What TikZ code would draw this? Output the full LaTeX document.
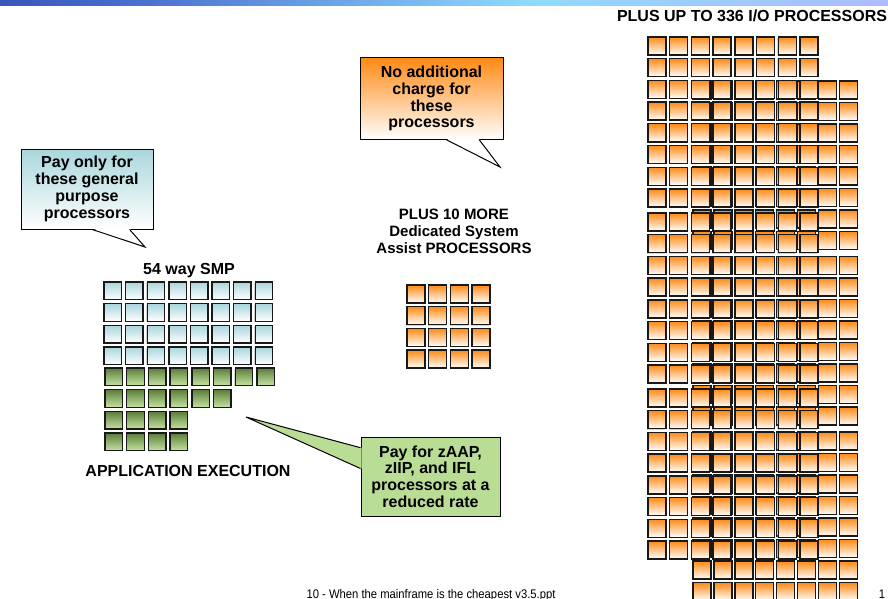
\documentclass[tikz,border=0pt]{standalone}
\usepackage{fontspec}
\setmainfont{Liberation Sans}
\usepackage{tikz}
\usetikzlibrary{calc, shadows}
\definecolor{GPBlue}{HTML}{A9D6DC}
\definecolor{ZGreenDark}{HTML}{5C7D3A}
\definecolor{ZGreenLight}{HTML}{C4E3A0}
\definecolor{ZGreenFill}{HTML}{BADD96}
\definecolor{IOOrange}{HTML}{FF8A14}
\definecolor{BannerNavy}{HTML}{000080}
\definecolor{BannerBlue}{HTML}{4A70D0}
\definecolor{BannerSky}{HTML}{90DAFF}
\definecolor{BannerLilac}{HTML}{B0B8FF}
\definecolor{BannerPurple}{HTML}{C890FF}
\pgfdeclarehorizontalshading{banner}{100bp}{color(0bp)=(BannerNavy); color(33bp)=(BannerBlue); color(55bp)=(BannerSky); color(78bp)=(BannerLilac); color(100bp)=(BannerPurple)}

\begin{document}
\begin{tikzpicture}[
    x=1pt, y=-1pt,
    cpubase/.style={draw=black!90, line width=1.4pt, minimum size=17.5pt, inner sep=0pt, drop shadow={shadow xshift=-0.8pt, shadow yshift=-0.8pt, opacity=0.35}},
    gpbox/.style={cpubase, top color=GPBlue, bottom color=white},
    zbox/.style={cpubase, top color=ZGreenDark, bottom color=ZGreenLight},
    iobox/.style={cpubase, minimum size=18pt, top color=IOOrange, bottom color=white},
    callout/.style={draw=black, line width=1pt, inner sep=2pt, align=center, font=\bfseries\fontsize{16}{16.8}\selectfont},
    heading/.style={align=center, font=\bfseries\fontsize{16}{17}\selectfont},
    pointer/.style={draw=black, line width=1pt, line join=miter}
]
\useasboundingbox (0,0) rectangle (888,599);

% Title bar
\shade[shading=banner] (0,0) rectangle (888,6);

% General purpose processors (54 way SMP)
\foreach \r in {0,...,3}
  \foreach \c in {0,...,7}
    \node[gpbox] (gp-\r-\c) at (112.75+21.6*\c, 290.75+21.7*\r) {};
\foreach \r/\n in {0/7, 1/5, 2/3, 3/3}
  \foreach \c in {0,...,\n}
    \node[zbox] (zp-\r-\c) at (113.75+21.7*\c, 376.75+21.7*\r) {};
\node[heading, anchor=base] (smplbl) at (189,274) {54 way SMP};
\node[heading, anchor=base] (appllbl) at (188,476) {APPLICATION EXECUTION};

% Dedicated system assist processors
\foreach \r in {0,...,3}
  \foreach \c in {0,...,3}
    \node[iobox] (sap-\r-\c) at (416+21.7*\c, 294+21.7*\r) {};
\node[heading, font=\bfseries\fontsize{15}{17}\selectfont] (saplbl) at (454,231) {PLUS 10 MORE\\Dedicated System\\Assist PROCESSORS};

% I/O processors (back stack first, front stack on top)
\foreach \b in {0,1,2}
  \foreach \r in {0,...,7}
    \foreach \c in {0,...,7}
      \node[iobox] (iob-\b-\r-\c) at (702+20.9*\c, 90+175.5*\b+21.5*\r) {};
\foreach \b in {0,1,2}
  \foreach \r in {0,...,7}
    \foreach \c in {0,...,7}
      \node[iobox] (ioa-\b-\r-\c) at (657+21.7*\c, 46+176*\b+21.7*\r) {};
\node[heading, anchor=base, font=\bfseries\fontsize{16}{18}\selectfont] (iolbl) at (752,22) {PLUS UP TO 336 I/O PROCESSORS};

% Callouts
\node[callout, top color=GPBlue, bottom color=white, minimum width=132pt, minimum height=80pt] (gpcall) at (87,189) {Pay only for\\these general\\purpose\\processors};
\coordinate (gptip) at (145,247);
\fill[white] ($(gpcall.south west)!0.54!(gpcall.south east)+(0,-1)$) -- (gptip) -- ($(gpcall.south west)!0.82!(gpcall.south east)+(0,-1)$) -- cycle;
\draw[pointer] ($(gpcall.south west)!0.54!(gpcall.south east)$) -- (gptip) -- ($(gpcall.south west)!0.82!(gpcall.south east)$);

\node[callout, top color=IOOrange, bottom color=white, minimum width=143pt, minimum height=81pt] (nocall) at (431.5,98.5) {No additional\\charge for\\these\\processors};
\coordinate (notip) at (500,167);
\fill[white] ($(nocall.south west)!0.60!(nocall.south east)+(0,-1)$) -- (notip) -- ($(nocall.south west)!0.83!(nocall.south east)+(0,-1)$) -- cycle;
\draw[pointer] ($(nocall.south west)!0.60!(nocall.south east)$) -- (notip) -- ($(nocall.south west)!0.83!(nocall.south east)$);

\node[callout, fill=ZGreenFill, minimum width=139pt, minimum height=79pt] (zcall) at (430.5,476.5) {Pay for zAAP,\\zIIP, and IFL\\processors at a\\reduced rate};
\coordinate (ztip) at (246,417);
\fill[ZGreenFill] ($(zcall.north west)!0.14!(zcall.south west)+(1,0)$) -- (ztip) -- ($(zcall.north west)!0.40!(zcall.south west)+(1,0)$) -- cycle;
\draw[pointer] ($(zcall.north west)!0.14!(zcall.south west)$) -- (ztip) -- ($(zcall.north west)!0.40!(zcall.south west)$);

% Footer
\node[anchor=base, inner sep=0pt, font=\fontsize{12.5}{14}\selectfont] (footer) at (431,598) {\scalebox{0.9}[1]{10 - When the mainframe is the cheapest v3.5.ppt}};
\node[anchor=base, inner sep=0pt, font=\fontsize{12.5}{14}\selectfont] (pageno) at (882,598) {\scalebox{0.9}[1]{1}};
\end{tikzpicture}
\end{document}
